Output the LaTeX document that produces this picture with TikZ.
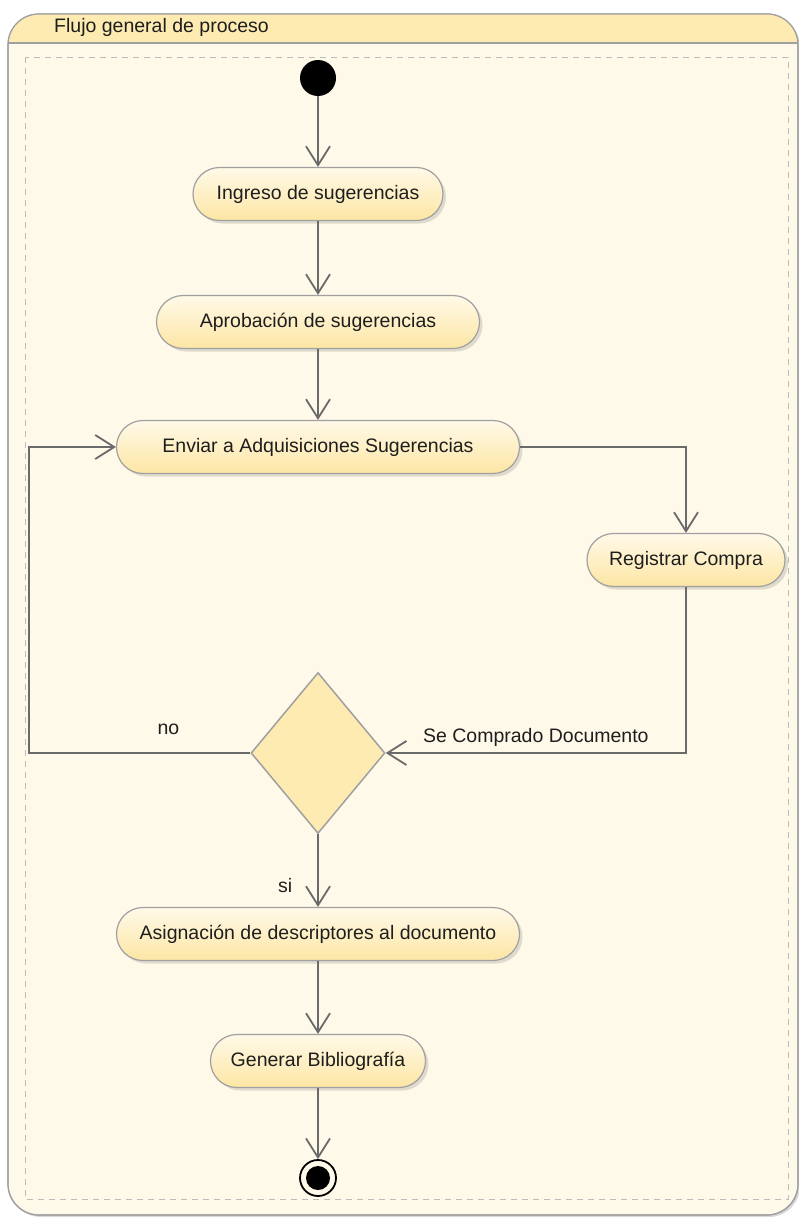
\documentclass[tikz,border=0pt]{standalone}
\usepackage{fontspec}
\setmainfont{Liberation Sans}
\usetikzlibrary{shapes.geometric,shapes.misc,arrows.meta,shadows}

\definecolor{bodyfill}{HTML}{FFF9E9}
\definecolor{headfill}{HTML}{FDEBB1}
\definecolor{acttop}{HTML}{FFF9E8}
\definecolor{actbot}{HTML}{FDE6A4}
\definecolor{edgegray}{HTML}{6A6A6A}
\definecolor{framegray}{HTML}{A0A0A0}
\definecolor{textdark}{HTML}{1E1E1E}

\tikzset{
  activity/.style={rounded rectangle, draw=framegray, line width=1.2,
    top color=acttop, bottom color=actbot, minimum height=53, inner xsep=0,
    text=textdark, drop shadow={shadow xshift=3pt, shadow yshift=-3pt, opacity=.25}},
  decision/.style={diamond, draw=framegray, line width=1.5, fill=headfill,
    minimum width=134, minimum height=161, inner sep=0},
  flow/.style={draw=edgegray, line width=1.8,
    -{Straight Barb[length=19pt,width=24pt,line width=1.8]}},
  lbl/.style={inner sep=0pt, text=textdark},
}

\begin{document}
\begin{tikzpicture}[x=1pt,y=-1pt,font=\fontsize{19.5}{23}\selectfont]
  \useasboundingbox (0,0) rectangle (799,1218);
  % frame of the activity
  \draw[framegray, line width=1.2, fill=bodyfill, rounded corners=31,
    drop shadow={shadow xshift=2pt, shadow yshift=-2pt, opacity=.3}] (8,14) rectangle (798,1215);
  \begin{scope}
    \clip[rounded corners=31] (8,14) rectangle (798,1215);
    \fill[headfill] (8,14) rectangle (798,43);
  \end{scope}
  \draw[framegray, line width=1.2, rounded corners=31] (8,14) rectangle (798,1215);
  \draw[framegray, line width=1.2] (8,43) -- (798,43);
  \node[lbl, anchor=west] (title) at (54,27) {Flujo general de proceso};
  \draw[framegray!70, line width=1, dash pattern=on 6pt off 5pt] (25,57) rectangle (788,1199);

  % actions
  \node[circle, fill=black, minimum size=36, inner sep=0] (start) at (318,78) {};
  \node[activity, minimum width=250] (ingreso)    at (318,194) {Ingreso de sugerencias};
  \node[activity, minimum width=323] (aprobacion) at (318,322) {Aprobación de sugerencias};
  \node[activity, minimum width=403] (enviar)     at (318,447) {Enviar a Adquisiciones Sugerencias};
  \node[activity, minimum width=198] (registrar)  at (686,560) {Registrar Compra};
  \node[decision]                    (comprado)   at (318,753) {};
  \node[activity, minimum width=403] (asignacion) at (318,934) {Asignación de descriptores al documento};
  \node[activity, minimum width=215] (generar)    at (318,1061) {Generar Bibliografía};
  \node[circle, draw=black, line width=1.8, fill=bodyfill, minimum size=36, inner sep=0] (final) at (318,1178) {};
  \fill[black] (final.center) circle (12);
  \coordinate (loopback) at (29,753);

  % transitions
  \draw[flow] (start) -- (ingreso);
  \draw[flow] (ingreso) -- (aprobacion);
  \draw[flow] (aprobacion) -- (enviar);
  \draw[flow] (enviar.east) -| (registrar.north);
  \draw[flow] (registrar.south) |- (comprado.east)
    node[lbl, pos=0.75, above=6pt] {Se Comprado Documento};
  \draw[flow] (comprado.west) -- (loopback) node[lbl, pos=0.37, above=17pt] {no}
    |- (enviar.west);
  \draw[flow] (comprado.south) -- (asignacion.north) node[lbl, pos=0.7, left=25pt] {si};
  \draw[flow] (asignacion) -- (generar);
  \draw[flow] (generar) -- (final);
\end{tikzpicture}
\end{document}
